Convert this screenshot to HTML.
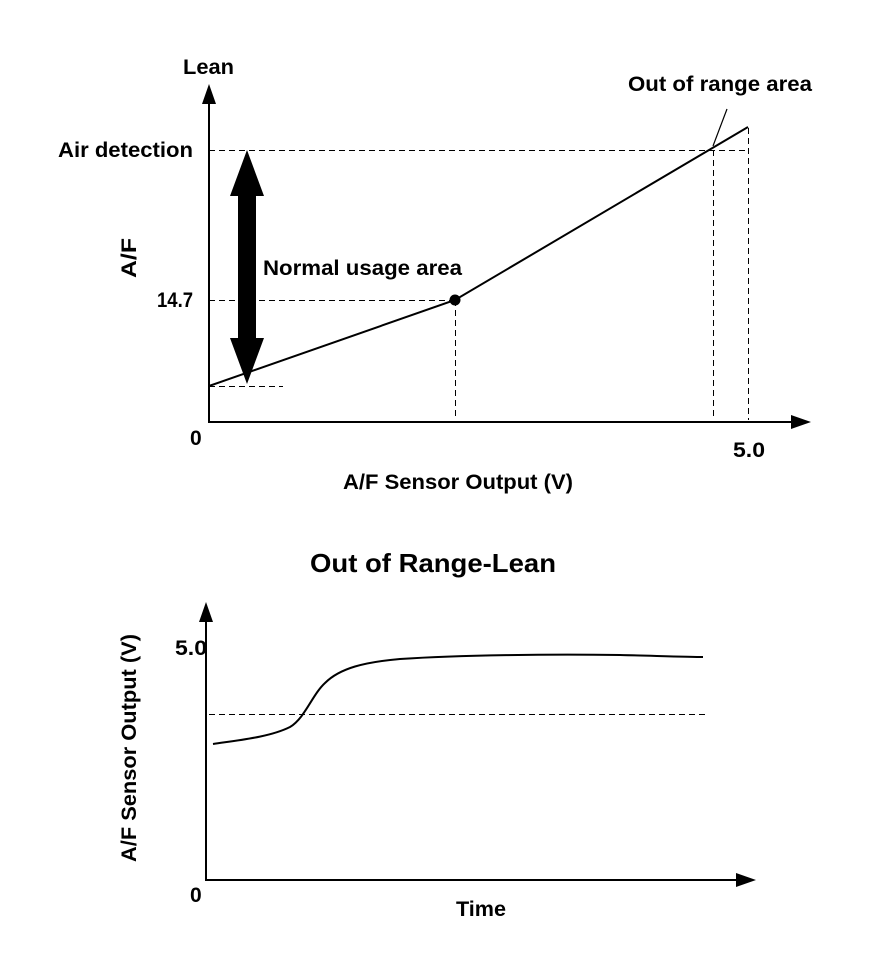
<!DOCTYPE html>
<html><head><style>
html,body{margin:0;padding:0;background:#fff;}
svg text{font-family:"Liberation Sans",Arial,sans-serif;font-weight:bold;fill:#000;}
</style></head><body>
<svg width="880" height="954" viewBox="0 0 880 954" xmlns="http://www.w3.org/2000/svg">
<line x1="209" y1="100" x2="209" y2="423" stroke="#000" stroke-width="2"/>
<polygon points="209,84 202,104 216,104" fill="#000"/>
<line x1="208" y1="422" x2="795" y2="422" stroke="#000" stroke-width="2"/>
<polygon points="811,422 791,415 791,429" fill="#000"/>
<g stroke="#000" stroke-width="1" stroke-dasharray="6,4" fill="none" shape-rendering="crispEdges">
<line x1="209" y1="150.5" x2="748" y2="150.5"/>
<line x1="209" y1="300.5" x2="455" y2="300.5"/>
<line x1="209" y1="386.5" x2="283" y2="386.5"/>
<line x1="455.5" y1="300" x2="455.5" y2="420"/>
<line x1="713.5" y1="150" x2="713.5" y2="420"/>
<line x1="748.5" y1="128" x2="748.5" y2="420"/>
</g>
<polyline points="209,386 455,300 748,127" fill="none" stroke="#000" stroke-width="2"/>
<circle cx="455" cy="300" r="5.5" fill="#000"/>
<line x1="727" y1="109" x2="713" y2="146" stroke="#000" stroke-width="1.2"/>
<polygon points="247,150 230,196 238,196 238,338 230,338 247,384 264,338 256,338 256,196 264,196" fill="#000"/>
<text x="183" y="74" font-size="21" textLength="51" lengthAdjust="spacingAndGlyphs">Lean</text>
<text x="58" y="157" font-size="21" textLength="135" lengthAdjust="spacingAndGlyphs">Air detection</text>
<text x="157" y="307" font-size="21" textLength="36" lengthAdjust="spacingAndGlyphs">14.7</text>
<text x="0" y="0" font-size="21" transform="translate(136,258) rotate(-90)" text-anchor="middle" textLength="40" lengthAdjust="spacingAndGlyphs">A/F</text>
<text x="263" y="275" font-size="21" textLength="199" lengthAdjust="spacingAndGlyphs">Normal usage area</text>
<text x="628" y="91" font-size="21" textLength="184" lengthAdjust="spacingAndGlyphs">Out of range area</text>
<text x="190" y="445" font-size="21">0</text>
<text x="733" y="457" font-size="21" textLength="32" lengthAdjust="spacingAndGlyphs">5.0</text>
<text x="343" y="489" font-size="21" textLength="230" lengthAdjust="spacingAndGlyphs">A/F Sensor Output (V)</text>
<text x="310" y="572" font-size="26" textLength="246" lengthAdjust="spacingAndGlyphs">Out of Range-Lean</text>
<line x1="206" y1="618" x2="206" y2="881" stroke="#000" stroke-width="2"/>
<polygon points="206,602 199,622 213,622" fill="#000"/>
<line x1="205" y1="880" x2="740" y2="880" stroke="#000" stroke-width="2"/>
<polygon points="756,880 736,873 736,887" fill="#000"/>
<line x1="209" y1="714.5" x2="706" y2="714.5" stroke="#000" stroke-width="1" stroke-dasharray="6,4" shape-rendering="crispEdges"/>
<path d="M213,744 C240,740 270,737 290,727 C305,718 312,695 325,683 C340,668 365,662 400,659 C460,655 550,654 620,655 C660,656 690,657 703,657" fill="none" stroke="#000" stroke-width="2"/>
<text x="175" y="655" font-size="21" textLength="32" lengthAdjust="spacingAndGlyphs">5.0</text>
<text x="190" y="902" font-size="21">0</text>
<text x="456" y="916" font-size="21" textLength="50" lengthAdjust="spacingAndGlyphs">Time</text>
<text x="0" y="0" font-size="21" transform="translate(136,748) rotate(-90)" text-anchor="middle" textLength="228" lengthAdjust="spacingAndGlyphs">A/F Sensor Output (V)</text>
</svg>
</body></html>
